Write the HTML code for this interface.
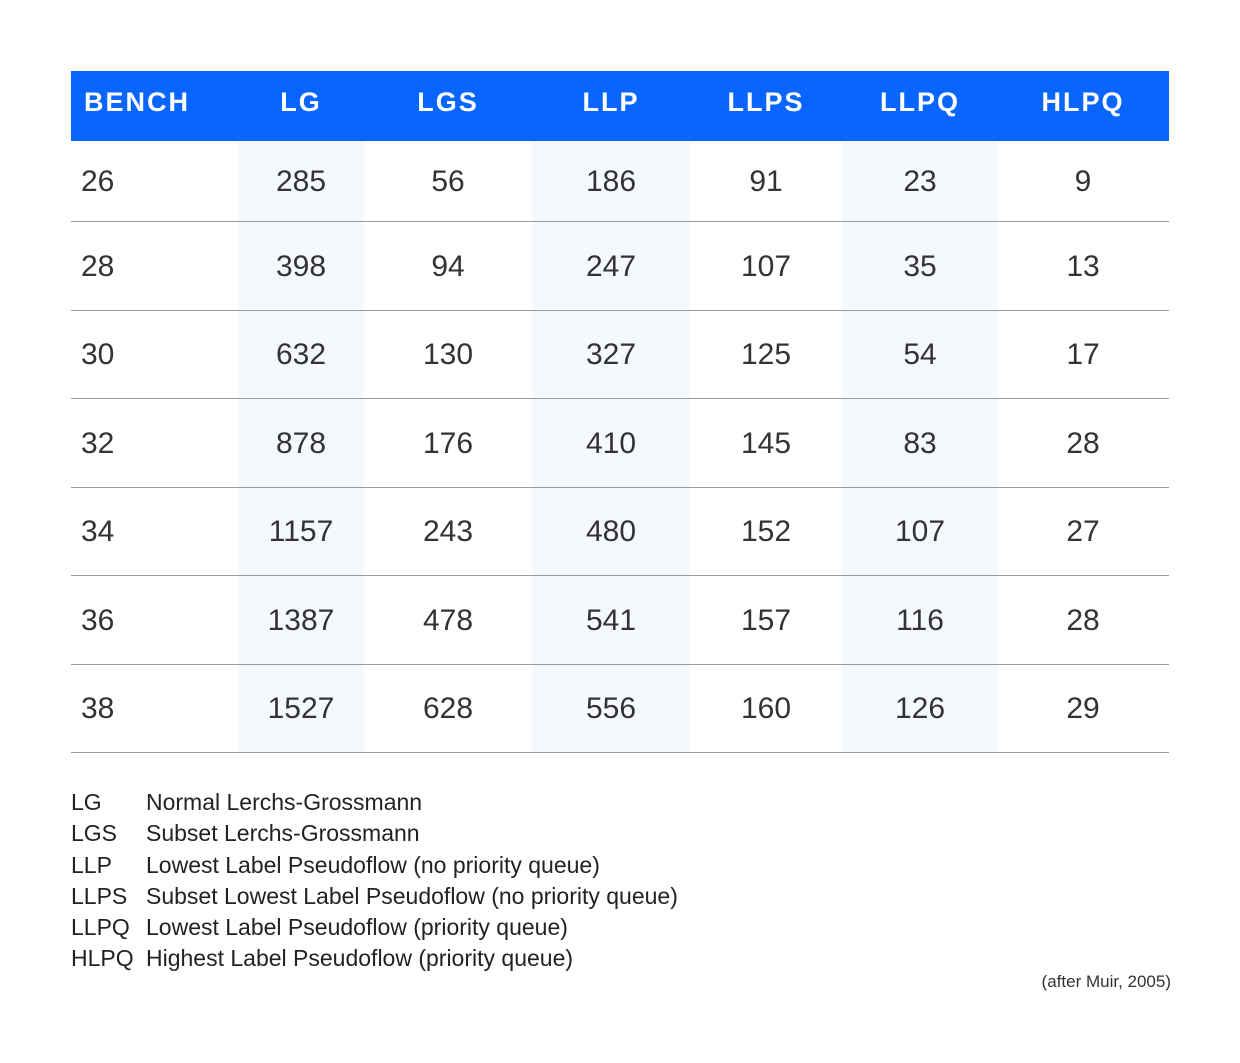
<!DOCTYPE html>
<html><head><meta charset="utf-8"><style>
body{margin:0;width:1240px;height:1063px;background:#fff;font-family:"Liberation Sans",sans-serif;position:relative;overflow:hidden}
.a{position:absolute}
.hd{position:absolute;top:71px;left:71px;width:1098px;height:70px;background:#0866ff}
.ht{position:absolute;top:87px;color:#fff;font-weight:bold;font-size:27px;letter-spacing:2px;transform:translateX(-50%);white-space:nowrap}
.shade{position:absolute;top:141px;height:611px;background:#f5f8fd}
.line{position:absolute;left:71px;width:1098px;height:1px;background:#9a9a9a}
.c{position:absolute;font-size:30px;color:#333;transform:translate(-50%,-50%);white-space:nowrap}
.lg{position:absolute;font-size:23px;color:#222;white-space:nowrap}
</style></head><body>
<div class="hd"></div>
<div class="shade" style="left:238px;width:126px"></div>
<div class="shade" style="left:532px;width:158px"></div>
<div class="shade" style="left:842px;width:156px"></div>
<div id="t"></div>
<div class="lg" style="left:71px;top:787px;line-height:31.3px">
<div><span style="display:inline-block;width:75px">LG</span>Normal Lerchs-Grossmann</div>
<div><span style="display:inline-block;width:75px">LGS</span>Subset Lerchs-Grossmann</div>
<div><span style="display:inline-block;width:75px">LLP</span>Lowest Label Pseudoflow (no priority queue)</div>
<div><span style="display:inline-block;width:75px">LLPS</span>Subset Lowest Label Pseudoflow (no priority queue)</div>
<div><span style="display:inline-block;width:75px">LLPQ</span>Lowest Label Pseudoflow (priority queue)</div>
<div><span style="display:inline-block;width:75px">HLPQ</span>Highest Label Pseudoflow (priority queue)</div>
</div>
<div class="a" style="right:69px;top:972px;font-size:17px;color:#333">(after Muir, 2005)</div>
<script>
const headers=["BENCH","LG","LGS","LLP","LLPS","LLPQ","HLPQ"];
const rows=[["26","285","56","186","91","23","9"],["28","398","94","247","107","35","13"],["30","632","130","327","125","54","17"],["32","878","176","410","145","83","28"],["34","1157","243","480","152","107","27"],["36","1387","478","541","157","116","28"],["38","1527","628","556","160","126","29"]];
const cx=[100,301,448,611,766,920,1083];
const rowTops=[141,221,310,398,487,575,664,752];
const body=document.body;
headers.forEach((h,i)=>{const d=document.createElement('div');d.className='ht';d.textContent=h;
d.style.left=(i==0?84:cx[i])+'px';if(i==0)d.style.transform='none';


body.appendChild(d);});
rows.forEach((r,ri)=>{const cy=(rowTops[ri]+rowTops[ri+1])/2+1;
r.forEach((v,ci)=>{const d=document.createElement('div');d.className='c';d.textContent=v;
d.style.top=cy+'px';
if(ci==0){d.style.left='81px';d.style.transform='translateY(-50%)';}else d.style.left=cx[ci]+'px';


body.appendChild(d);});
const l=document.createElement('div');l.className='line';l.style.top=rowTops[ri+1]+'px';


body.appendChild(l);});
</script>
</body></html>
